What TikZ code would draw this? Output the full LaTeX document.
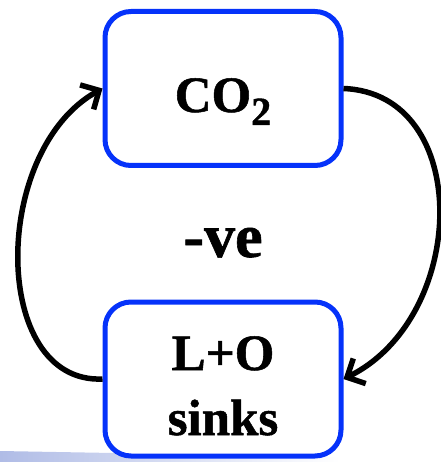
\documentclass[tikz,border=0pt]{standalone}
\usepackage{fontspec}
\setmainfont{Liberation Serif}[BoldFeatures={FakeBold=1}]
\usetikzlibrary{arrows.meta}
\definecolor{boxblue}{RGB}{5,50,250}
\definecolor{bandblue}{RGB}{176,188,230}
\tikzset{
  box/.style={draw=boxblue, line width=5pt, rounded corners=26pt, fill=white,
    minimum width=236pt, minimum height=154pt, inner sep=0pt},
  lbl/.style={inner sep=0pt, anchor=base, font=\bfseries\fontsize{51}{60}\selectfont},
  arr/.style={line width=5.5pt, -{Straight Barb[length=14pt,width=28pt,line width=5.5pt]}}
}
\begin{document}
\begin{tikzpicture}[x=1pt,y=-1pt]
\useasboundingbox (0,0) rectangle (440,462);
\shade[left color=bandblue, right color=white] (0,451) -- (340,457) -- (340,462) -- (0,462) -- cycle;
\node[box] (co2) at (223,88.5) {};
\node[box] (sinks) at (223,379) {};
\node[lbl] (t1) at (223,112) {CO\raisebox{-13pt}{\fontsize{40}{40}\selectfont 2}};
\node[lbl, font=\bfseries\fontsize{62}{70}\selectfont] (t2) at (223,257) {-ve};
\node[lbl] (t3) at (223,370) {L+O};
\node[lbl] (t4) at (223,435) {sinks};
\draw[arr] (sinks.west) .. controls +(-112,5) and +(-112,62) .. (co2.west);
\draw[arr] (co2.east) .. controls +(130,5) and +(125,-62) .. (sinks.east);
\end{tikzpicture}
\end{document}
